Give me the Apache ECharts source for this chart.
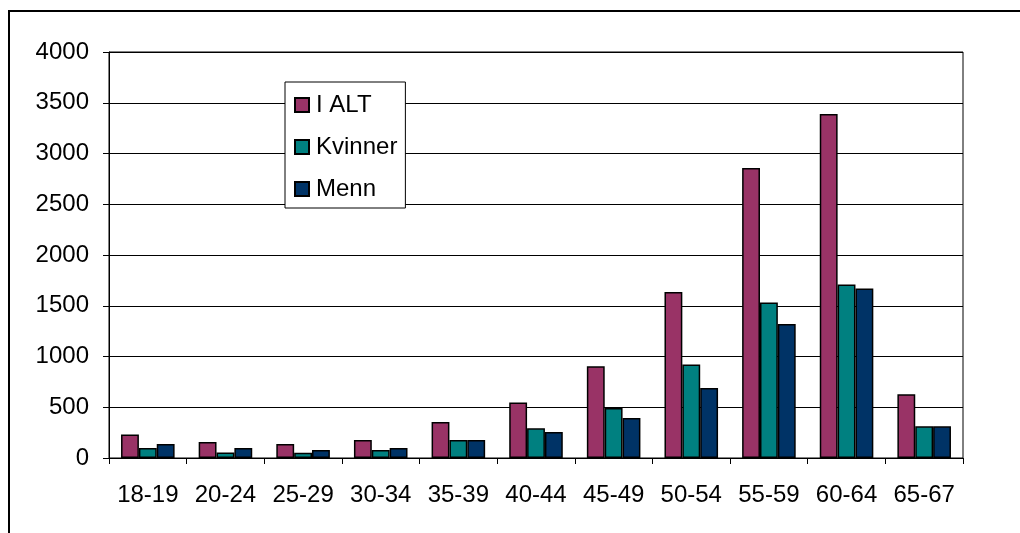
<!DOCTYPE html>
<html>
<head>
<meta charset="utf-8">
<script src="https://cdn.jsdelivr.net/npm/echarts@6/dist/echarts.min.js"></script>
<style>
html,body{margin:0;padding:0;background:#fff;}
#chart{width:1020px;height:533px;}
</style>
</head>
<body>
<div id="chart"></div>
<script>
var categories = ['18-19','20-24','25-29','30-34','35-39','40-44','45-49','50-54','55-59','60-64','65-67'];
var iAlt    = [232, 158, 138, 177, 355, 548, 903, 1635, 2857, 3389, 627];
var kvinner = [98, 55, 52, 79, 177, 292, 493, 922, 1533, 1710, 312];
var menn    = [138, 98, 79, 98, 177, 256, 394, 690, 1320, 1671, 312];
var yTicks = {min: 0, max: 4000, interval: 500};

var font = 'Liberation Sans, Arial, sans-serif';
var chart = echarts.init(document.getElementById('chart'));
function barSeries(name, data, color) {
  return {
    name: name, type: 'bar', data: data,
    barGap: '0%', barCategoryGap: '31%',
    itemStyle: {color: color, borderColor: '#000', borderWidth: 1.5},
    emphasis: {disabled: true}
  };
}
chart.setOption({
  animation: false,
  backgroundColor: '#fff',
  graphic: [{
    type: 'rect', silent: true, z: -1,
    shape: {x: 9, y: 11, width: 1100, height: 600},
    style: {fill: 'none', stroke: '#000', lineWidth: 2}
  }],
  grid: {left: 109, top: 52, right: 57, bottom: 75, show: true, borderColor: '#000', borderWidth: 1, containLabel: false},
  legend: {
    orient: 'vertical', left: 285, top: 82,
    backgroundColor: '#fff', borderColor: '#000', borderWidth: 1,
    padding: [11, 8, 7, 9],
    itemWidth: 14, itemHeight: 14, itemGap: 18,
    icon: 'rect',
    textStyle: {fontFamily: font, fontSize: 24, color: '#000', lineHeight: 24, padding: [0, 0, 0, 2]},
    data: ['I ALT', 'Kvinner', 'Menn']
  },
  xAxis: {
    type: 'category', data: categories,
    axisLine: {show: true, lineStyle: {color: '#000', width: 1}},
    axisTick: {show: true, length: 6, alignWithLabel: false, lineStyle: {color: '#000'}},
    axisLabel: {fontFamily: font, fontSize: 24, color: '#000', margin: 25, interval: 0}
  },
  yAxis: {
    type: 'value', min: yTicks.min, max: yTicks.max, interval: yTicks.interval,
    axisLine: {show: true, lineStyle: {color: '#000', width: 1}},
    axisTick: {show: true, length: 6, inside: false, lineStyle: {color: '#000'}},
    axisLabel: {fontFamily: font, fontSize: 24, color: '#000', margin: 20, formatter: function (v) { return String(v); }},
    splitLine: {show: true, lineStyle: {color: '#000', width: 1}}
  },
  series: [
    barSeries('I ALT', iAlt, '#993366'),
    barSeries('Kvinner', kvinner, '#008080'),
    barSeries('Menn', menn, '#003366')
  ]
});
</script>
</body>
</html>
